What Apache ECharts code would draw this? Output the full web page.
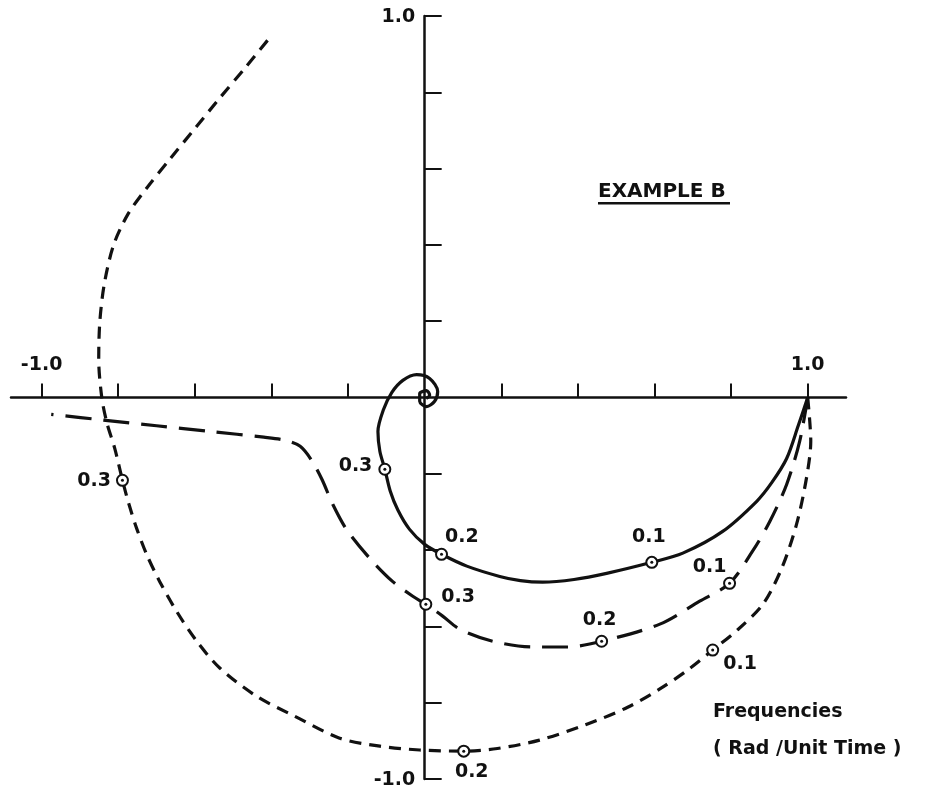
<!DOCTYPE html>
<html>
<head>
<meta charset="utf-8">
<script src="https://cdn.jsdelivr.net/npm/echarts@6/dist/echarts.min.js"></script>
<style>
  html, body { margin: 0; padding: 0; background: #fff; }
  #chart { width: 925px; height: 794px; }
</style>
</head>
<body>
<div id="chart"></div>
<script>
// Nyquist loci for Example B: real part on x, imaginary part on y.
const solidLocus = [
  [1.0, 0.0], [0.975, -0.075], [0.945, -0.160], [0.907, -0.222], [0.867, -0.272],
  [0.778, -0.351], [0.674, -0.408], [0.593, -0.432], [0.475, -0.461], [0.390, -0.477],
  [0.308, -0.484], [0.250, -0.480], [0.196, -0.469], [0.110, -0.442], [0.044, -0.411],
  [0.000, -0.385], [-0.040, -0.345], [-0.070, -0.295], [-0.090, -0.245], [-0.104, -0.188],
  [-0.117, -0.141], [-0.122, -0.089], [-0.108, -0.033], [-0.086, 0.013], [-0.057, 0.045],
  [-0.021, 0.060], [0.013, 0.050], [0.034, 0.016], [0.026, -0.010], [0.005, -0.024],
  [-0.013, -0.010], [-0.013, 0.010], [0.005, 0.018], [0.013, 0.006], [0.004, -0.002]
];
const longDashLocus = [
  [1.0, 0.0], [0.979, -0.115], [0.945, -0.228], [0.901, -0.325], [0.856, -0.403],
  [0.796, -0.487], [0.718, -0.534], [0.614, -0.594], [0.462, -0.639], [0.371, -0.654],
  [0.282, -0.654], [0.178, -0.639], [0.091, -0.607], [0.047, -0.573], [0.003, -0.542],
  [-0.031, -0.521], [-0.084, -0.482], [-0.144, -0.421], [-0.204, -0.346], [-0.240, -0.280],
  [-0.268, -0.215], [-0.295, -0.165], [-0.325, -0.128], [-0.365, -0.112], [-0.420, -0.104],
  [-0.560, -0.089], [-0.700, -0.074], [-0.840, -0.059], [-0.975, -0.044]
];
const shortDashLocus = [
  [1.0, 0.0], [1.008, -0.115], [0.997, -0.210], [0.971, -0.332], [0.932, -0.448],
  [0.883, -0.542], [0.818, -0.608], [0.752, -0.662], [0.690, -0.712], [0.614, -0.764],
  [0.530, -0.812], [0.420, -0.858], [0.300, -0.898], [0.190, -0.920], [0.102, -0.927],
  [-0.013, -0.924], [-0.117, -0.914], [-0.222, -0.893], [-0.340, -0.835], [-0.439, -0.783],
  [-0.535, -0.709], [-0.595, -0.639], [-0.648, -0.560], [-0.692, -0.482], [-0.726, -0.411],
  [-0.752, -0.343], [-0.772, -0.280], [-0.789, -0.217], [-0.809, -0.134], [-0.830, -0.065],
  [-0.843, 0.000], [-0.851, 0.100], [-0.848, 0.200], [-0.836, 0.300], [-0.812, 0.400],
  [-0.775, 0.480], [-0.725, 0.550], [-0.665, 0.625], [-0.600, 0.705], [-0.535, 0.785],
  [-0.468, 0.865], [-0.399, 0.950]
];

// Frequency points marked on each locus (rad / unit time).
const frequencyNames = ['0.1', '0.2', '0.3'];
const solidMarks = [[0.593, -0.432], [0.044, -0.411], [-0.104, -0.188]];
const longDashMarks = [[0.796, -0.487], [0.462, -0.639], [0.003, -0.542]];
const shortDashMarks = [[0.752, -0.662], [0.102, -0.927], [-0.789, -0.217]];

// Axis tick values and the labelled axis ends.
const tickValues = [-1.0, -0.8, -0.6, -0.4, -0.2, 0.2, 0.4, 0.6, 0.8, 1.0];
const xEndValues = [-1.0, 1.0];
const yEndValues = [1.0, -1.0];

// Where each frequency label sits around its marker.
const solidLabelPlace = [['top', [-3, -4]], ['right', [-8, -17]], ['left', [-1, -3]]];
const longDashLabelPlace = [['top', [-20, 5]], ['top', [-2, 0]], ['right', [4, -7]]];
const shortDashLabelPlace = [['right', [-1, 14]], ['bottom', [8, 0]], ['left', [0, 1]]];

const INK = '#111';
const FONT = 'DejaVu Sans';

function markerData(points, places) {
  return points.map((p, i) => ({
    name: frequencyNames[i],
    value: p,
    label: { position: places[i][0], offset: places[i][1] }
  }));
}

function locusSeries(points, dash) {
  return {
    type: 'line',
    data: points,
    showSymbol: false,
    symbol: 'none',
    smooth: 0.3,
    clip: false,
    z: 2,
    lineStyle: { color: INK, width: 3.2, type: dash, cap: 'butt', join: 'round', opacity: 1 },
    silent: true
  };
}

function markerSeries(points, places) {
  return [{
    type: 'scatter',
    data: markerData(points, places),
    symbol: 'circle',
    symbolSize: 11,
    z: 5,
    itemStyle: { color: '#fff', borderColor: INK, borderWidth: 2, opacity: 1 },
    label: {
      show: true,
      formatter: p => p.name,
      color: INK,
      fontFamily: FONT,
      fontWeight: 'bold',
      fontSize: 19,
      distance: 5
    },
    silent: true
  }, {
    type: 'scatter',
    data: points,
    symbol: 'circle',
    symbolSize: 3,
    z: 6,
    itemStyle: { color: INK, opacity: 1 },
    silent: true
  }];
}

// Labels at the ends of the axes, placed through the axis scales.
function endLabelSeries(points, position, distance, offset) {
  return {
    type: 'scatter',
    data: points,
    symbolSize: 1,
    z: 4,
    itemStyle: { color: 'rgba(0,0,0,0)', opacity: 1 },
    label: {
      show: true,
      position: position,
      distance: distance,
      offset: offset,
      formatter: p => {
        const v = p.value[0] !== 0 ? p.value[0] : p.value[1];
        return v.toFixed(1);
      },
      color: INK,
      opacity: 1,
      fontFamily: FONT,
      fontWeight: 'bold',
      fontSize: 19
    },
    silent: true
  };
}

const chart = echarts.init(document.getElementById('chart'), null, { renderer: 'canvas' });

chart.setOption({
  backgroundColor: '#fff',
  animation: false,
  grid: { left: 11, top: 16, width: 835, height: 763, containLabel: false, outerBoundsMode: 'none' },
  xAxis: {
    type: 'value',
    min: -1.08,
    max: 1.1,
    splitLine: { show: false },
    axisLine: { show: true, onZero: true, lineStyle: { color: INK, width: 2.5 } },
    axisTick: { show: true, inside: true, length: 14, customValues: tickValues,
                lineStyle: { color: INK, width: 2 } },
    axisLabel: { show: false }
  },
  yAxis: {
    type: 'value',
    min: -1.0,
    max: 1.0,
    splitLine: { show: false },
    axisLine: { show: true, onZero: true, lineStyle: { color: INK, width: 2.5 } },
    axisTick: { show: true, inside: true, length: 17, customValues: tickValues,
                lineStyle: { color: INK, width: 2 } },
    axisLabel: { show: false }
  },
  graphic: [
    { type: 'text', left: 598, top: 182,
      style: { text: 'EXAMPLE B', fill: INK, font: 'bold 20px "DejaVu Sans"' } },
    { type: 'rect', left: 598, top: 202, shape: { width: 132, height: 2.5 },
      style: { fill: INK } },
    { type: 'text', left: 713, top: 703,
      style: { text: 'Frequencies', fill: INK, font: 'bold 19px "DejaVu Sans"' } },
    { type: 'text', left: 713, top: 740,
      style: { text: '( Rad /Unit Time )', fill: INK, font: 'bold 19px "DejaVu Sans"' } }
  ],
  series: [
    locusSeries(solidLocus, 'solid'),
    locusSeries(longDashLocus, [26, 12]),
    locusSeries(shortDashLocus, [12, 8]),
    ...markerSeries(solidMarks, solidLabelPlace),
    ...markerSeries(longDashMarks, longDashLabelPlace),
    ...markerSeries(shortDashMarks, shortDashLabelPlace),
    endLabelSeries(xEndValues.map(v => [v, 0]), 'top', 22, [0, 0]),
    endLabelSeries(yEndValues.map(v => [0, v]), 'left', 9, [0, 1])
  ]
});
</script>
</body>
</html>
